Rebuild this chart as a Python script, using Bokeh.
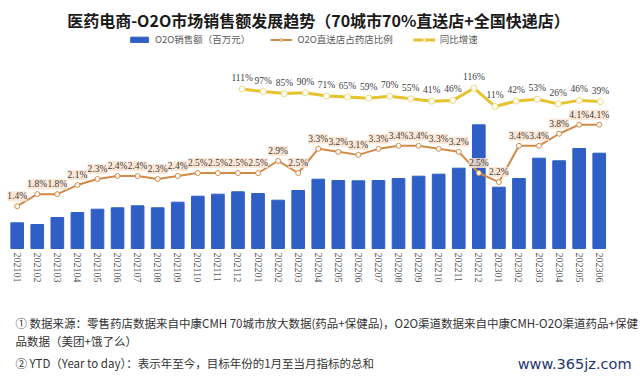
import math
from bokeh.plotting import figure
from bokeh.models import (Range1d, ColumnDataSource, LabelSet, Label, Legend,
                          LegendItem)
from bokeh.embed import file_html
from bokeh.resources import INLINE

months = ["202101", "202102", "202103", "202104", "202105", "202106",
          "202107", "202108", "202109", "202110", "202111", "202112",
          "202201", "202202", "202203", "202204", "202205", "202206",
          "202207", "202208", "202209", "202210", "202211", "202212",
          "202301", "202302", "202303", "202304", "202305", "202306"]
sales = [257, 240, 310, 360, 393, 407, 427, 407, 463, 523, 543, 567,
         550, 483, 580, 693, 680, 677, 680, 700, 723, 743, 803, 1237,
         613, 700, 903, 877, 1000, 953]
share = [1.4, 1.8, 1.8, 2.1, 2.3, 2.4, 2.4, 2.3, 2.4, 2.5, 2.5, 2.5,
         2.5, 2.9, 2.5, 3.3, 3.2, 3.1, 3.3, 3.4, 3.4, 3.3, 3.2, 2.5,
         2.2, 3.4, 3.4, 3.8, 4.1, 4.1]
yoy_months = months[12:]
yoy = [111, 97, 85, 90, 71, 65, 59, 70, 55, 41, 46, 116, 11, 42, 53, 26, 46, 39]

title_text = "医药电商-O2O市场销售额发展趋势（70城市70%直送店+全国快递店）"
legend_labels = ["O2O销售额（百万元）", "O2O直送店占药店比例", "同比增速"]
notes = ["① 数据来源：零售药店数据来自中康CMH 70城市放大数据(药品+保健品)，O2O渠道数据来自中康CMH-O2O渠道药品+保健",
         "品数据（美团+饿了么）",
         "② YTD（Year to day）：表示年至今，目标年份的1月至当月指标的总和"]
watermark = "www.365jz.com"

BLUE = "#2F5EC4"
ORANGE = "#D38A47"
GOLD = "#E5C22E"

xs = list(range(len(months)))
src = ColumnDataSource(dict(x=xs, zero=[0] * len(xs), month=months,
                            sales=sales, share=share,
                            share_txt=[f"{v:.1f}%" for v in share]))
ysrc = ColumnDataSource(dict(x=list(range(len(yoy))), yoy=yoy,
                             yoy_txt=[f"{v}%" for v in yoy]))

p = figure(width=640, height=378, output_backend="svg", toolbar_location=None,
           x_range=Range1d(-0.832, 31.056), y_range=Range1d(-1300, 2480),
           x_axis_location=None, y_axis_location=None,
           min_border=0, min_border_left=0, min_border_right=0,
           min_border_top=0, min_border_bottom=0)
p.extra_y_ranges = {"share": Range1d(-4.305, 8.212),
                    "yoy": Range1d(-1552.3, 620.1)}
p.extra_x_ranges = {"yoy": Range1d(-11.471, 18.904)}
p.outline_line_color = None
p.xgrid.grid_line_color = None
p.ygrid.grid_line_color = None
p.background_fill_color = "white"
p.border_fill_color = "white"

bars = p.vbar(x="x", top="sales", width=0.63, source=src, color=BLUE)

# month tick labels under the bars
p.add_layout(LabelSet(x="x", y="zero", text="month", source=src,
                      angle=-math.pi / 2, text_align="left",
                      text_baseline="middle", y_offset=-4,
                      text_font="Liberation Serif", text_font_size="10px",
                      text_color="#555555"))

sl = p.line(x="x", y="share", source=src, y_range_name="share",
            line_color=ORANGE, line_width=2)
sm = p.scatter(x="x", y="share", source=src, y_range_name="share", size=5,
               fill_color="white", line_color=ORANGE, line_width=1)
p.add_layout(LabelSet(x="x", y="share", text="share_txt", source=src,
                      y_range_name="share", text_align="center",
                      text_baseline="bottom", y_offset=5,
                      text_font="Liberation Serif", text_font_size="9.5px",
                      text_color="#404040", background_fill_color="#FBE3CF",
                      background_fill_alpha=0.85))

yl = p.line(x="x", y="yoy", source=ysrc, x_range_name="yoy", y_range_name="yoy",
            line_color=GOLD, line_width=3)
ym = p.scatter(x="x", y="yoy", source=ysrc, x_range_name="yoy",
               y_range_name="yoy", size=6, fill_color="white",
               line_color="#EFD97A", line_width=1)
p.add_layout(LabelSet(x="x", y="yoy", text="yoy_txt", source=ysrc,
                      x_range_name="yoy", y_range_name="yoy",
                      text_align="center", text_baseline="bottom", y_offset=6,
                      text_font="Liberation Serif", text_font_size="9.5px",
                      text_color="#404040"))

legend = Legend(items=[LegendItem(label=legend_labels[0], renderers=[bars]),
                       LegendItem(label=legend_labels[1], renderers=[sl, sm]),
                       LegendItem(label=legend_labels[2], renderers=[yl, ym])],
                orientation="horizontal", location=(128, 332),
                label_text_font="Noto Sans CJK SC", label_text_font_size="9.5px",
                label_text_color="#595959", glyph_width=22, glyph_height=7,
                label_height=12, padding=0, margin=0, spacing=20,
                label_standoff=5, border_line_color=None,
                background_fill_alpha=0)
p.add_layout(legend)

p.add_layout(Label(x=318, y=359, x_units="screen", y_units="screen",
                   text=title_text, text_align="center", text_baseline="middle",
                   text_font="Noto Sans CJK SC", text_font_style="bold",
                   text_font_size="16px", text_color="#1a1a1a"))

for txt, yy in zip(notes, [56, 38, 16]):
    p.add_layout(Label(x=15, y=yy, x_units="screen", y_units="screen", text=txt,
                       text_align="left", text_baseline="middle",
                       text_font="Noto Sans CJK SC", text_font_size="11.5px",
                       text_color="#333333"))
p.add_layout(Label(x=631, y=15, x_units="screen", y_units="screen",
                   text=watermark, text_align="right", text_baseline="middle",
                   text_font="DejaVu Sans", text_font_size="14.5px",
                   text_color="#1F3570"))

open("out.html", "w").write(file_html(p, INLINE))
